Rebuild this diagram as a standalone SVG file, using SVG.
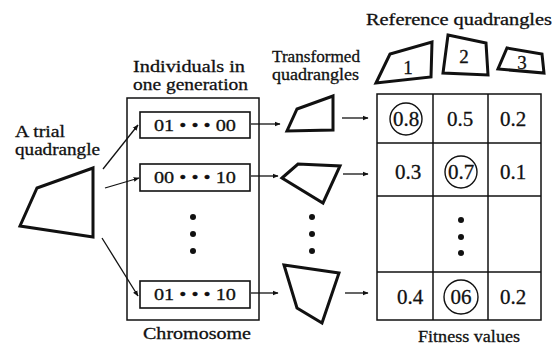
<svg xmlns="http://www.w3.org/2000/svg" width="560" height="348" viewBox="0 0 560 348">
<defs>
<style>
.t{font-family:'Liberation Serif',serif;font-size:17px;fill:#111;stroke:#111;stroke-width:0.3}
.n{font-family:'Liberation Serif',serif;font-size:21px;fill:#111;stroke:#111;stroke-width:0.3;text-anchor:middle}
.c{font-family:'Liberation Serif',serif;font-size:17px;fill:#111;stroke:#111;stroke-width:0.3;text-anchor:middle}
.r{font-family:'Liberation Serif',serif;font-size:19px;fill:#111;stroke:#111;stroke-width:0.3;text-anchor:middle}
.q{fill:none;stroke:#111;stroke-width:3;stroke-linejoin:miter}
.b{fill:#fff;stroke:#111;stroke-width:1.6}
.o{fill:none;stroke:#111;stroke-width:1.5}
.a{stroke:#111;stroke-width:1.3;fill:none;marker-end:url(#ah)}
.d{fill:#111}
.g{fill:none;stroke:#111;stroke-width:1.4}
</style>
<marker id="ah" viewBox="0 0 10 10" refX="9" refY="5" markerWidth="6" markerHeight="6" markerUnits="userSpaceOnUse" orient="auto">
<path d="M0,1 L10,5 L0,9 z" fill="#111"/>
</marker>
</defs>
<rect width="560" height="348" fill="#fff"/>

<g id="trial">
<text class="t" x="15" y="137" textLength="50" lengthAdjust="spacingAndGlyphs">A trial</text>
<text class="t" x="15" y="155" textLength="85" lengthAdjust="spacingAndGlyphs">quadrangle</text>
<polygon class="q" points="93,168 37,188 20,226 93,237"/>
</g>

<g id="population">
<text class="t" x="133" y="72" textLength="112" lengthAdjust="spacingAndGlyphs">Individuals in</text>
<text class="t" x="133" y="90" textLength="115" lengthAdjust="spacingAndGlyphs">one generation</text>
<rect class="o" x="127" y="98" width="132" height="222"/>
<text class="c" x="197" y="339" textLength="108" lengthAdjust="spacingAndGlyphs">Chromosome</text>
<circle class="d" cx="193" cy="217" r="3"/>
<circle class="d" cx="193" cy="234" r="3"/>
<circle class="d" cx="193" cy="251" r="3"/>
</g>

<g id="chrom1">
<rect class="b" x="140" y="112" width="110" height="26"/>
<text class="c" x="195" y="131" textLength="82" lengthAdjust="spacingAndGlyphs">01 • • • 00</text>
</g>
<g id="chrom2">
<rect class="b" x="140" y="164" width="110" height="27"/>
<text class="c" x="195" y="183" textLength="82" lengthAdjust="spacingAndGlyphs">00 • • • 10</text>
</g>
<g id="chrom3">
<rect class="b" x="140" y="281" width="110" height="27"/>
<text class="c" x="195" y="300" textLength="82" lengthAdjust="spacingAndGlyphs">01 • • • 10</text>
</g>

<g id="transformed">
<text class="t" x="272" y="62" textLength="88" lengthAdjust="spacingAndGlyphs">Transformed</text>
<text class="t" x="272" y="80" textLength="87" lengthAdjust="spacingAndGlyphs">quadrangles</text>
<polygon class="q" points="333,96 297,109 287,131 333,130"/>
<polygon class="q" points="282,178 298,164 340,166 323,203"/>
<polygon class="q" points="284,265 339,273 322,323 297,308"/>
<circle class="d" cx="312" cy="217" r="3"/>
<circle class="d" cx="312" cy="234" r="3"/>
<circle class="d" cx="312" cy="251" r="3"/>
</g>

<g id="reference">
<text class="c" x="459" y="25" textLength="186" lengthAdjust="spacingAndGlyphs">Reference quadrangles</text>
<polygon class="q" points="376,83 390,54 432,42 431,77"/>
<polygon class="q" points="448,35 486,43 488,75 443,73"/>
<polygon class="q" points="507,48 542,54 544,73 498,69"/>
<text class="r" x="408" y="74">1</text>
<text class="r" x="464" y="63">2</text>
<text class="r" x="522" y="69">3</text>
</g>

<g id="fitness">
<rect class="o" x="377" y="94" width="164" height="226"/>
<line class="o" x1="433" y1="94" x2="433" y2="320"/>
<line class="o" x1="488" y1="94" x2="488" y2="320"/>
<line class="o" x1="377" y1="143" x2="541" y2="143"/>
<line class="o" x1="377" y1="196" x2="541" y2="196"/>
<line class="o" x1="377" y1="272" x2="541" y2="272"/>
<circle class="g" cx="406" cy="119" r="16"/>
<circle class="g" cx="461" cy="172" r="16"/>
<circle class="g" cx="461" cy="297" r="17"/>
<text class="n" x="406" y="126">0.8</text>
<text class="n" x="460" y="126">0.5</text>
<text class="n" x="513" y="126">0.2</text>
<text class="n" x="408" y="179">0.3</text>
<text class="n" x="461" y="179">0.7</text>
<text class="n" x="513" y="179">0.1</text>
<circle class="d" cx="461" cy="220" r="3"/>
<circle class="d" cx="461" cy="237" r="3"/>
<circle class="d" cx="461" cy="253" r="3"/>
<text class="n" x="410" y="304">0.4</text>
<text class="n" x="461" y="304">06</text>
<text class="n" x="513" y="304">0.2</text>
<text class="c" x="469" y="342" textLength="102" lengthAdjust="spacingAndGlyphs">Fitness values</text>
</g>

<g id="connectors">
<line class="a" x1="103" y1="169" x2="138" y2="125"/>
<line class="a" x1="105" y1="188" x2="139" y2="178"/>
<line class="a" x1="102" y1="238" x2="138" y2="296"/>
<line class="a" x1="251" y1="124" x2="280" y2="124"/>
<line class="a" x1="251" y1="176" x2="278" y2="176"/>
<line class="a" x1="251" y1="293" x2="278" y2="293"/>
<line class="a" x1="342" y1="118" x2="368" y2="118"/>
<line class="a" x1="343" y1="174" x2="368" y2="174"/>
<line class="a" x1="345" y1="293" x2="368" y2="293"/>
</g>
</svg>
